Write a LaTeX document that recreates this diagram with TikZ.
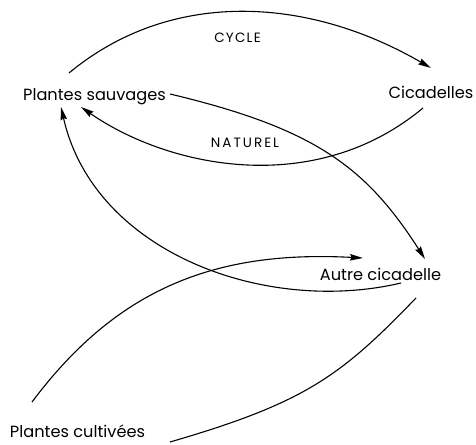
\documentclass[tikz,border=0pt]{standalone}
\usepackage{fontspec}
\setsansfont{Poppins}
\usetikzlibrary{arrows.meta}
\tikzset{
  lbl/.style={font=\sffamily\fontsize{16.2}{18}\selectfont, inner sep=0pt, anchor=base},
  sm/.style={font=\sffamily\fontsize{13.5}{16}\selectfont, inner sep=0pt, anchor=base},
  link/.style={line width=1.1pt, -{Stealth[length=13pt,width=6.5pt,inset=1.5pt]}},
  plain/.style={line width=1.1pt}
}
\begin{document}
\begin{tikzpicture}[x=1pt,y=-1pt]
\useasboundingbox (0,0) rectangle (476,444);
\node[lbl] (ps) at (94.5,100) {Plantes sauvages};
\node[lbl] (cic) at (431,98) {Cicadelles};
\node[lbl] (ac) at (380.5,280) {Autre cicadelle};
\node[lbl] (pc) at (77.5,437) {Plantes cultivées};
\node[sm] (cy) at (237.5,43) {\addfontfeature{LetterSpace=9}CYCLE};
\node[sm] (na) at (245,147) {\addfontfeature{LetterSpace=15}NATUREL};
% CYCLE top arc
\draw[link] ([shift={(-25.5,-27)}]ps.base) .. controls +(100,-83) and +(-126,-73) .. ([shift={(0,-30)}]cic.base);
% NATUREL return arc
\draw[link] ([shift={(-8,10)}]cic.base) .. controls +(-108,90) and +(88,61) .. ([shift={(-13.5,7)}]ps.base);
% Plantes sauvages -> Autre cicadelle
\draw[link] ([shift={(75.5,-6)}]ps.base) .. controls +(145,34.5) and +(-59,-92) .. ([shift={(44.5,-21)}]ac.base);
% Autre cicadelle -> Plantes sauvages
\draw[link] ([shift={(20.5,3)}]ac.base) .. controls +(-136,32) and +(33,145.5) .. ([shift={(-33.5,7)}]ps.base);
% Plantes cultivees -> Autre cicadelle
\draw[link] ([shift={(-45.5,-35)}]pc.base) .. controls +(84,-112) and +(-150,-8) .. ([shift={(-17.5,-22)}]ac.base);
% Plantes cultivees -- Autre cicadelle (no arrow)
\draw[plain] ([shift={(92.5,5)}]pc.base) .. controls +(134,-39) and +(-76,79) .. ([shift={(35.5,18)}]ac.base);
\end{tikzpicture}
\end{document}
